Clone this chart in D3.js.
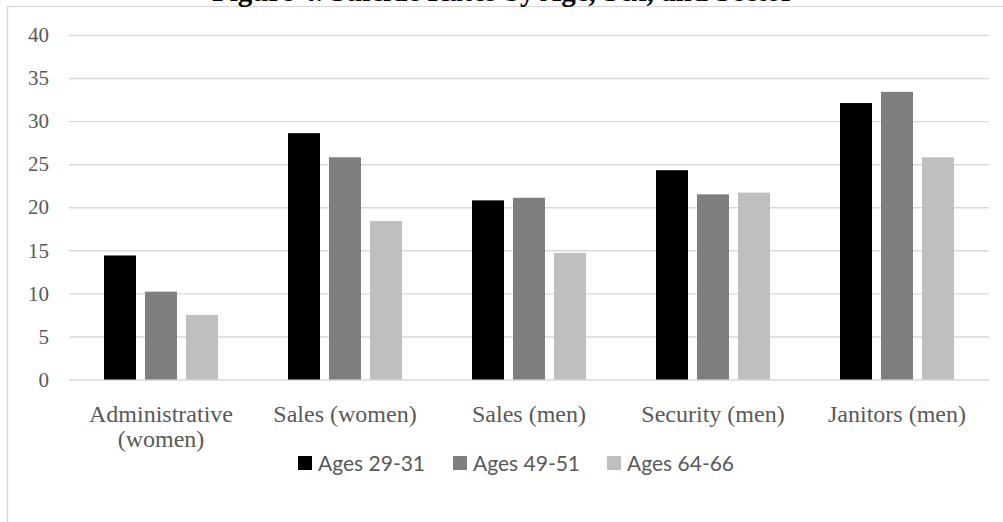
<!DOCTYPE html>
<html>
<head>
<meta charset="utf-8">
<script src="https://cdn.jsdelivr.net/npm/d3@7/dist/d3.min.js"></script>
<style>
  html, body { margin: 0; padding: 0; background: #fff; }
  svg { display: block; }
</style>
</head>
<body>
<svg id="chart" width="1003" height="522"></svg>
<script>
const titleText = "Figure 4. Suicide Rates by Age, Sex, and Sector";
const categories = ["Administrative (women)", "Sales (women)", "Sales (men)", "Security (men)", "Janitors (men)"];
const categoryLines = [["Administrative", "(women)"], ["Sales (women)"], ["Sales (men)"], ["Security (men)"], ["Janitors (men)"]];
const seriesNames = ["Ages 29-31", "Ages 49-51", "Ages 64-66"];
const ages29_31 = [14.4, 28.6, 20.8, 24.3, 32.1];
const ages49_51 = [10.2, 25.8, 21.1, 21.5, 33.4];
const ages64_66 = [7.5, 18.4, 14.7, 21.7, 25.8];
const yTicks = [0, 5, 10, 15, 20, 25, 30, 35, 40];

const seriesValues = [ages29_31, ages49_51, ages64_66];
const colors = ["#000000", "#7f7f7f", "#bfbfbf"];
const serif = "'Liberation Serif', 'Times New Roman', serif";

const svg = d3.select("#chart");
const plot = { left: 69, right: 989, top: 35, bottom: 379.5 };

// outer chart-area border (cropped by the window)
svg.append("rect")
  .attr("x", 7.5).attr("y", 6.5)
  .attr("width", 1200).attr("height", 800)
  .attr("fill", "none").attr("stroke", "#d9d9d9").attr("stroke-width", 1.3);

// title (partially cut at the top, as in the reference)
svg.append("text")
  .attr("x", 503).attr("y", 1)
  .attr("text-anchor", "middle")
  .style("font-family", serif)
  .attr("font-weight", "bold")
  .attr("font-size", 29)
  .attr("fill", "#000")
  .text(titleText);

const x0 = d3.scaleBand().domain(categories).range([plot.left, plot.right]).paddingInner(0).paddingOuter(0);
const x1 = d3.scaleBand().domain(seriesNames).range([0, x0.bandwidth()]).paddingInner(9 / 41).paddingOuter(0.8537);
const y = d3.scaleLinear().domain([0, 40]).range([plot.bottom, plot.top]);

// y axis with gridlines
const yAxis = d3.axisLeft(y)
  .tickValues(yTicks)
  .tickSize(-(plot.right - plot.left))
  .tickPadding(20)
  .tickFormat(d3.format("d"));

const gy = svg.append("g")
  .attr("transform", `translate(${plot.left},0)`)
  .call(yAxis);
gy.select(".domain").remove();
gy.selectAll(".tick line").attr("stroke", "#d9d9d9").attr("stroke-width", 1.4);
gy.selectAll(".tick text")
  .style("font-family", serif)
  .attr("font-size", 21)
  .attr("fill", "#595959");

// bars
const groups = svg.append("g").selectAll("g")
  .data(categories)
  .join("g")
  .attr("transform", d => `translate(${x0(d)},0)`);

groups.selectAll("rect")
  .data((d, i) => seriesNames.map((s, j) => ({ s, v: seriesValues[j][i], c: colors[j] })))
  .join("rect")
  .attr("x", d => x1(d.s))
  .attr("width", x1.bandwidth())
  .attr("y", d => y(d.v))
  .attr("height", d => y(0) - y(d.v))
  .attr("fill", d => d.c);

// category labels
const xl = svg.append("g");
categories.forEach((c, i) => {
  const cx = x0(c) + x0.bandwidth() / 2;
  const t = xl.append("text")
    .attr("x", cx)
    .attr("y", 422)
    .attr("text-anchor", "middle")
    .style("font-family", serif)
    .attr("font-size", 24)
    .attr("fill", "#595959");
  categoryLines[i].forEach((ln, k) => {
    t.append("tspan")
      .attr("x", cx)
      .attr("dy", k === 0 ? 0 : 25)
      .text(ln);
  });
});

// legend
const legendX = [298, 453, 607];
const lg = svg.append("g");
seriesNames.forEach((s, j) => {
  lg.append("rect")
    .attr("x", legendX[j]).attr("y", 456)
    .attr("width", 14).attr("height", 14)
    .attr("fill", colors[j]);
  lg.append("text")
    .attr("x", legendX[j] + 20).attr("y", 471)
    .style("font-family", "Lato, Carlito, Calibri, sans-serif")
    .attr("font-size", 21)
    .attr("fill", "#595959")
    .text(s);
});
</script>
</body>
</html>
